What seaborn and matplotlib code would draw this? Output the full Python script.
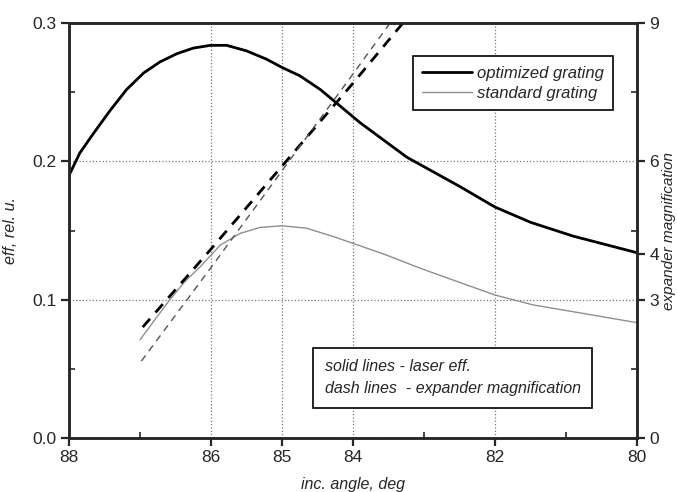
import numpy as np
import pandas as pd
import seaborn as sns
import matplotlib.pyplot as plt
from matplotlib.ticker import FixedLocator

# data
opt_angle = [88.0, 87.85, 87.66, 87.42, 87.19, 86.95, 86.72, 86.48, 86.25, 86.01, 85.78,
             85.5, 85.22, 85.0, 84.75, 84.46, 84.18, 83.9, 83.24, 82.5, 82.0, 81.5, 80.9, 80.0]
opt_eff = [0.190, 0.206, 0.220, 0.237, 0.252, 0.264, 0.272, 0.278, 0.282, 0.284, 0.284,
           0.280, 0.274, 0.268, 0.262, 0.252, 0.240, 0.228, 0.203, 0.182, 0.167, 0.156, 0.146, 0.134]

std_angle = [87.0, 86.8, 86.58, 86.37, 86.15, 85.87, 85.59, 85.31, 85.0, 84.65, 84.28, 84.0,
             83.53, 83.06, 82.59, 82.0, 81.46, 80.76, 80.0]
std_eff = [0.071, 0.085, 0.100, 0.113, 0.124, 0.1395, 0.148, 0.1523, 0.1535, 0.1517, 0.1457, 0.1408,
           0.1323, 0.1229, 0.1142, 0.1034, 0.0962, 0.0901, 0.0834]

opt_mag_angle = [87.0, 86.0, 85.0, 84.0, 83.3]
opt_mag = [2.34, 4.1, 5.9, 7.7, 9.0]
std_mag_angle = [87.0, 86.0, 85.0, 84.0, 83.48]
std_mag = [1.63, 3.7, 5.8, 7.9, 9.0]

x_major = [88, 86, 85, 84, 82, 80]
x_minor = [87, 83, 81]
y_left = [0.0, 0.1, 0.2, 0.3]
y_right = [0, 3, 4, 6, 9]
y_right_minor = [1.5, 4.5, 7.5]

sns.set_style("ticks")
plt.rcParams['font.family'] = ['Liberation Sans', 'DejaVu Sans']

fig = plt.figure(figsize=(6.77, 4.92), dpi=100)
ax = fig.add_axes([0.102, 0.1098, 0.839, 0.843])
ax2 = ax.twinx()

sns.lineplot(x=opt_angle, y=opt_eff, ax=ax, color='black', linewidth=2.0,
             label='optimized grating', legend=False)
sns.lineplot(x=std_angle, y=std_eff, ax=ax, color='#8f8f8f', linewidth=1.0,
             label='standard grating', legend=False)

sns.lineplot(x=opt_mag_angle, y=opt_mag, ax=ax2, color='black', linewidth=2.0,
             linestyle=(0, (4, 3)), legend=False)
sns.lineplot(x=std_mag_angle, y=std_mag, ax=ax2, color='#555555', linewidth=1.0,
             linestyle=(0, (5, 4)), legend=False)

ax.set_xlim(88, 80)
ax.set_ylim(0, 0.3)
ax2.set_ylim(0, 9)

ax.set_xticks(x_major)
ax.set_xticklabels([str(v) for v in x_major])
ax.xaxis.set_minor_locator(FixedLocator(x_minor))
ax.set_yticks(y_left)
ax.set_yticklabels(['%.1f' % v for v in y_left])
ax.yaxis.set_minor_locator(FixedLocator([0.05, 0.15, 0.25]))
ax2.set_yticks(y_right)
ax2.set_yticklabels([str(v) for v in y_right])
ax2.yaxis.set_minor_locator(FixedLocator(y_right_minor))

ax.grid(True, which='major', linestyle=':', color='#777777', linewidth=0.9)
ax2.grid(False)

for a in (ax, ax2):
    for s in a.spines.values():
        s.set_linewidth(1.8)
        s.set_visible(True)
ax.tick_params(which='major', direction='out', length=6, width=1.6, labelsize=12.5, pad=3)
ax.tick_params(which='minor', direction='in', length=4, width=1.2)
ax2.tick_params(which='major', direction='out', length=6, width=1.6, labelsize=12.5, pad=3)
ax2.tick_params(which='minor', direction='in', length=4, width=1.2)

ax.set_xlabel('inc. angle, deg', fontsize=11.5, style='italic', labelpad=8)
ax.set_ylabel('eff, rel. u.', fontsize=11.5, style='italic', labelpad=10)
ax2.set_ylabel('expander magnification', fontsize=11, style='italic', labelpad=2)

handles, labels = ax.get_legend_handles_labels()
leg = ax2.legend(handles, labels, loc='upper left', bbox_to_anchor=(0.59, 0.94),
                 frameon=True, fancybox=False, edgecolor='black', framealpha=1,
                 prop={'size': 12, 'style': 'italic'}, handlelength=3,
                 handletextpad=0.3, borderpad=0.55, labelspacing=0.3)
leg.get_frame().set_linewidth(1.2)

ax2.text(0.45, 0.19, 'solid lines - laser eff.\ndash lines  - expander magnification',
         transform=ax.transAxes, fontsize=11.5, style='italic', va='top', ha='left',
         linespacing=1.6,
         bbox=dict(boxstyle='square,pad=0.7', facecolor='white', edgecolor='black', linewidth=1.2))

fig.savefig('out.png', dpi=100)
